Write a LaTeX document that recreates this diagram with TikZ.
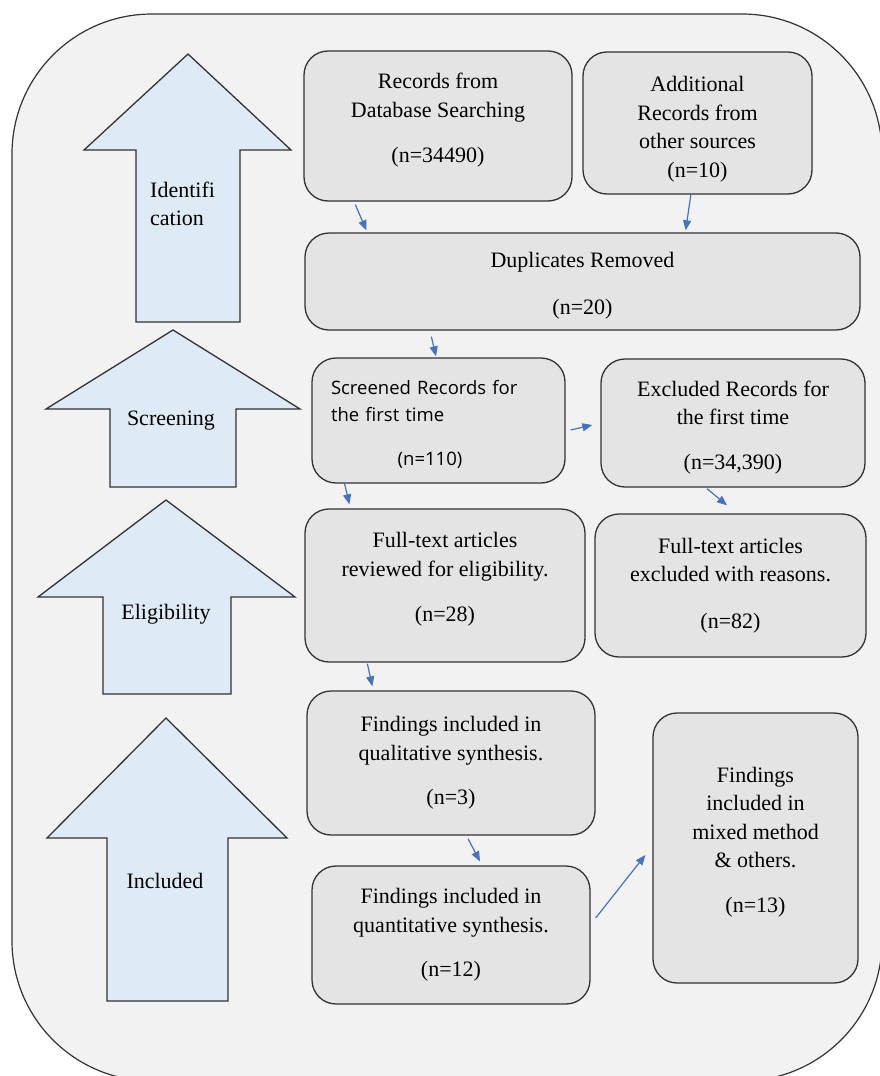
\documentclass[tikz,border=0pt]{standalone}
\usepackage{fontspec}
\setmainfont{Liberation Serif}
\newfontfamily\screenfont{Open Sans}
\usetikzlibrary{calc,arrows.meta}

\definecolor{panelgray}{HTML}{F2F2F2}
\definecolor{boxgray}{HTML}{E4E4E4}
\definecolor{phaseblue}{HTML}{DEEAF6}
\definecolor{flowblue}{HTML}{4472C4}
\definecolor{edgegray}{HTML}{333333}

\newcommand{\liftup}[1]{\rule[-#1]{0pt}{0pt}}
\newcommand{\dropdown}[1]{\rule{0pt}{#1}}

\tikzstyle{record}=[draw=edgegray,line width=1.3pt,fill=boxgray,rounded corners=24pt,align=center,inner sep=0pt,font=\fontsize{22}{28.5}\selectfont]
\tikzstyle{phase}=[draw=edgegray,line width=1.3pt,fill=phaseblue]
\tikzstyle{phasetext}=[align=center,inner sep=0pt,font=\fontsize{22}{28.5}\selectfont]
\tikzstyle{flow}=[draw=flowblue,line width=1.2pt,-{Triangle[length=10pt,width=8pt]}]

\begin{document}
\begin{tikzpicture}[x=1pt,y=-1pt]
\useasboundingbox (0,0) rectangle (879,1076);
\draw[draw=edgegray,line width=1.2pt,fill=panelgray,rounded corners=140pt] (12,14) rectangle (882,1081);

% phase arrows
\draw[phase] (188,54) -- (291,150) -- (240,150) -- (240,322) -- (136,322) -- (136,150) -- (84,150) -- cycle;
\draw[phase] (173,330) -- (300,409) -- (236,409) -- (236,487) -- (110,487) -- (110,409) -- (46,409) -- cycle;
\draw[phase] (166,500) -- (295,597) -- (231,597) -- (231,694) -- (103,694) -- (103,597) -- (38,597) -- cycle;
\draw[phase] (166,718) -- (287,838) -- (228,838) -- (228,1001) -- (107,1001) -- (107,838) -- (47,838) -- cycle;

\node[phasetext,align=left,anchor=west] (ident) at (150,204) {Identifi\\cation};
\node[phasetext] (screen) at (171,421) {Screening};
\node[phasetext] (elig) at (166,614) {Eligibility};
\node[phasetext] (incl) at (165,881) {Included};

% records
\node[record,minimum width=268pt,minimum height=150pt] (db) at (438,126) {Records from\\Database Searching\\[17pt](n=34490)\liftup{16pt}};
\node[record,minimum width=229pt,minimum height=142pt] (other) at (697.5,123) {\dropdown{28pt}Additional\\Records from\\other sources\\(n=10)};
\node[record,minimum width=555pt,minimum height=97pt] (dup) at (582.5,281.5) {\dropdown{24pt}Duplicates Removed\\[18pt](n=20)};

\node[record,minimum width=253pt,minimum height=125pt,text width=215pt,align=left,font=\screenfont\fontsize{18.5}{27}\selectfont] (scr) at (438.5,420.5) {\dropdown{22pt}Screened Records for\\the first time\\[17pt]\makebox[198pt]{(n=110)}};
\node[record,minimum width=264pt,minimum height=128pt] (exc) at (733,423) {\dropdown{24pt}Excluded Records for\\the first time\\[16pt](n=34,390)};

\node[record,minimum width=280pt,minimum height=153pt] (rev) at (445,585.5) {Full-text articles\\reviewed for eligibility.\\[17pt](n=28)\liftup{17pt}};
\node[record,minimum width=271pt,minimum height=143pt] (excr) at (730.5,585.5) {Full-text articles\\excluded with reasons.\\[18pt](n=82)};

\node[record,minimum width=288pt,minimum height=144pt] (qual) at (451,763) {Findings included in\\qualitative synthesis.\\[16pt](n=3)};
\node[record,minimum width=278pt,minimum height=138pt] (quan) at (451,935) {Findings included in\\quantitative synthesis.\\[16pt](n=12)};
\node[record,minimum width=205pt,minimum height=270pt] (mix) at (755.5,848) {Findings\\included in\\mixed method\\\& others.\\[16pt](n=13)\liftup{17pt}};

% flow
\draw[flow] ($(db.south west)+(52,3)$) -- ($(dup.north west)+(62,-2)$);
\draw[flow] ($(other.south)+(-6.5,-1)$) -- ($(dup.north east)+(-175,-2)$);
\draw[flow] ($(dup.south west)+(127,6)$) -- ($(scr.north)+(-2.5,-1)$);
\draw[flow] ($(scr.east)+(5,9.5)$) -- ($(exc.west)+(-8,2)$);
\draw[flow] ($(scr.south west)+(33,-1)$) -- ($(rev.north west)+(45,-4)$);
\draw[flow] ($(exc.south)+(-26,1)$) -- ($(excr.north)+(-3.5,-8)$);
\draw[flow] ($(rev.south west)+(63,1)$) -- ($(qual.north west)+(66,-4)$);
\draw[flow] ($(qual.south)+(17,3)$) -- ($(quan.north)+(29,-4)$);
\draw[flow] ($(quan.east)+(5,-17)$) -- ($(mix.west)+(-7,7)$);

\end{tikzpicture}
\end{document}
